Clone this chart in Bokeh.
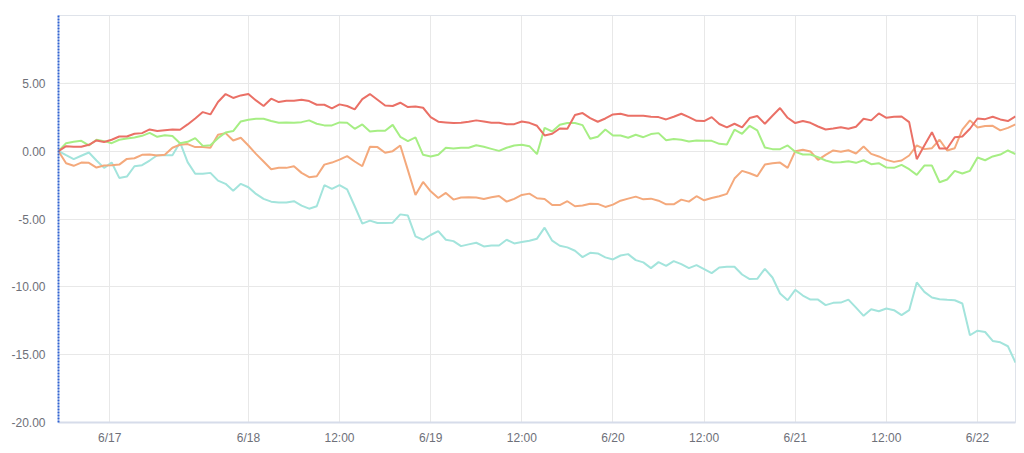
from bokeh.plotting import figure
from bokeh.models import FixedTicker, NumeralTickFormatter, Range1d
from bokeh.embed import file_html
from bokeh.resources import INLINE

# x: sample index (hourly points); tick labels placed at their indices
x_tick_pos = [6.75, 25, 37, 49, 61, 73, 85, 97, 109, 121]
x_tick_labels = ["6/17", "6/18", "12:00", "6/19", "12:00", "6/20", "12:00", "6/21", "12:00", "6/22"]
y_ticks = [-20, -15, -10, -5, 0, 5]

series_red = [0.00, 0.37, 0.32, 0.32, 0.47, 0.79, 0.67, 0.84, 1.08, 1.08, 1.28, 1.33, 1.60, 1.48, 1.55, 1.60, 1.58, 1.97, 2.41, 2.88, 2.71, 3.62, 4.21, 3.92, 4.11, 4.21,
              3.74, 3.33, 3.87, 3.62, 3.72, 3.72, 3.79, 3.69, 3.42, 3.42, 3.15, 3.45, 3.33, 3.08, 3.84, 4.21, 3.79, 3.37, 3.33, 3.57, 3.25, 3.30, 3.20, 2.51, 2.17,
              2.12, 2.07, 2.09, 2.17, 2.27, 2.19, 2.09, 2.09, 1.99, 1.99, 2.19, 2.09, 1.87, 1.16, 1.28, 1.67, 1.65, 2.66, 2.81, 2.44, 2.17, 2.41, 2.71, 2.76, 2.61, 2.61,
              2.61, 2.54, 2.51, 2.34, 2.54, 2.76, 2.51, 2.24, 2.22, 2.51, 2.00, 1.75, 2.02, 1.75, 2.44, 2.59, 2.02, 2.61, 3.18, 2.46, 2.07, 2.22, 2.09, 1.82, 1.60, 1.67,
              1.77, 1.65, 1.80, 2.39, 2.27, 2.78, 2.46, 2.54, 2.56, 2.14, -0.59, 0.42, 1.40, 0.20, 0.20, 1.03, 1.08, 1.65, 2.41, 2.36, 2.54, 2.34, 2.22, 2.56]

series_green = [0.00, 0.59, 0.69, 0.76, 0.42, 0.84, 0.74, 0.59, 0.84, 0.94, 1.01, 1.13, 1.35, 1.06, 1.18, 1.11, 0.59, 0.69, 0.96, 0.39, 0.44, 0.96, 1.38, 1.48, 2.19, 2.32,
                2.39, 2.39, 2.22, 2.09, 2.12, 2.09, 2.14, 2.27, 2.02, 1.90, 1.90, 2.12, 2.09, 1.65, 1.97, 1.45, 1.50, 1.50, 1.94, 1.06, 0.74, 1.01, -0.27, -0.39, -0.27,
                0.25, 0.20, 0.25, 0.25, 0.44, 0.32, 0.17, 0.02, 0.25, 0.42, 0.47, 0.37, -0.22, 1.72, 1.45, 1.95, 2.07, 2.07, 1.92, 0.91, 1.06, 1.60, 1.16, 1.16, 0.99, 1.21,
                1.03, 1.26, 1.33, 0.81, 0.89, 0.84, 0.71, 0.79, 0.76, 0.76, 0.54, 0.49, 1.58, 1.28, 1.87, 1.53, 0.27, 0.15, 0.15, 0.42, -0.05, -0.25, -0.25, -0.44, -0.69, -0.84,
                -0.81, -0.74, -0.86, -0.67, -0.96, -0.89, -1.21, -1.23, -1.01, -1.33, -1.75, -1.06, -1.06, -2.29, -2.09, -1.45, -1.65, -1.45, -0.47, -0.67, -0.39, -0.25, 0.05, -0.22]

series_orange = [0.00, -0.89, -1.08, -0.84, -0.86, -1.21, -1.06, -1.03, -0.99, -0.57, -0.52, -0.27, -0.25, -0.32, -0.27, 0.25, 0.47, 0.52, 0.30, 0.30, 0.25, 1.21, 1.33, 0.79, 0.99, 0.42,
                 -0.20, -0.76, -1.33, -1.23, -1.23, -1.11, -1.60, -1.92, -1.85, -0.99, -0.84, -0.62, -0.37, -0.76, -1.11, 0.32, 0.30, -0.12, 0.00, 0.42, -1.40, -3.23, -2.27, -2.96, -3.45,
                 -3.08, -3.57, -3.42, -3.40, -3.42, -3.52, -3.40, -3.30, -3.72, -3.52, -3.23, -3.13, -3.47, -3.52, -3.97, -3.97, -3.69, -4.06, -4.01, -3.87, -3.89, -4.11, -3.94, -3.65, -3.50, -3.35,
                 -3.55, -3.50, -3.65, -3.92, -3.92, -3.57, -3.72, -3.32, -3.62, -3.45, -3.32, -3.15, -2.02, -1.45, -1.63, -1.85, -0.99, -0.89, -0.84, -1.23, 0.00, 0.10, -0.02, -0.64, -0.27, 0.05,
                 -0.05, 0.07, -0.17, 0.34, -0.20, -0.39, -0.64, -0.79, -0.69, -0.32, 0.42, 0.15, 0.22, 0.84, 0.05, 0.22, 1.58, 2.27, 1.75, 1.85, 1.87, 1.53, 1.72, 1.97]

series_cyan = [0.00, -0.30, -0.59, -0.34, -0.10, -0.69, -1.23, -0.84, -1.97, -1.87, -1.11, -1.03, -0.69, -0.30, -0.30, -0.30, 0.64, -0.81, -1.67, -1.67, -1.60, -2.17, -2.41, -2.91, -2.41, -2.66,
               -3.15, -3.52, -3.72, -3.79, -3.79, -3.69, -4.01, -4.24, -4.06, -2.51, -2.78, -2.51, -2.81, -4.06, -5.34, -5.12, -5.30, -5.30, -5.27, -4.66, -4.75, -6.28, -6.53, -6.18, -5.89,
               -6.53, -6.63, -7.00, -6.87, -6.75, -7.02, -6.95, -6.95, -6.53, -6.80, -6.70, -6.60, -6.45, -5.64, -6.60, -6.97, -7.09, -7.34, -7.81, -7.49, -7.54, -7.83, -7.98, -7.69, -7.59, -8.03,
               -8.20, -8.62, -8.18, -8.45, -8.10, -8.33, -8.62, -8.40, -8.69, -8.99, -8.57, -8.52, -8.52, -9.09, -9.43, -9.41, -8.67, -9.31, -10.49, -10.99, -10.22, -10.64, -10.94, -10.94, -11.35, -11.18,
               -11.16, -10.94, -11.53, -12.14, -11.65, -11.80, -11.60, -11.72, -12.09, -11.72, -9.68, -10.37, -10.79, -10.91, -10.96, -10.99, -11.23, -13.57, -13.23, -13.33, -13.99, -14.09, -14.38, -15.59]

x = list(range(len(series_red)))

p = figure(width=1024, height=453, output_backend="svg", toolbar_location=None,
           x_range=Range1d(0, len(x) - 1), y_range=Range1d(-20, 10),
           min_border_left=58, min_border_right=9, min_border_top=15, min_border_bottom=31)
p.background_fill_color = "white"
p.border_fill_color = "white"
p.outline_line_color = "#dfe3ea"
p.outline_line_width = 1

p.line(x, series_cyan, line_color="#a3e4dc", line_width=2)
p.line(x, series_orange, line_color="#f4a97c", line_width=2)
p.line(x, series_green, line_color="#a6ee84", line_width=2)
p.line(x, series_red, line_color="#ea7066", line_width=2)

# axes
p.xaxis.ticker = FixedTicker(ticks=x_tick_pos)
p.xaxis.major_label_overrides = {t: l for t, l in zip(x_tick_pos, x_tick_labels)}
p.yaxis.ticker = FixedTicker(ticks=y_ticks)
p.yaxis.formatter = NumeralTickFormatter(format="0.00")

for ax in (p.xaxis[0], p.yaxis[0]):
    ax.major_tick_in = 0
    ax.major_tick_out = 0
    ax.minor_tick_in = 0
    ax.minor_tick_out = 0
    ax.major_label_text_font = "Liberation Sans"
    ax.major_label_text_font_size = "12px"
    ax.major_label_text_color = "#6e7079"

p.xaxis.axis_line_color = "#d6dcea"
p.xaxis.axis_line_width = 2
p.xaxis.major_label_standoff = 8
p.yaxis.axis_line_color = "#2f62d3"
p.yaxis.axis_line_width = 2
p.yaxis.axis_line_dash = "2 1"
p.yaxis.major_label_standoff = 13

p.xgrid.ticker = FixedTicker(ticks=x_tick_pos)
p.ygrid.ticker = FixedTicker(ticks=y_ticks)
p.xgrid.grid_line_color = "#e8e8e8"
p.ygrid.grid_line_color = "#e8e8e8"
p.xgrid.grid_line_width = 1
p.ygrid.grid_line_width = 1

open("out.html", "w").write(file_html(p, INLINE))
